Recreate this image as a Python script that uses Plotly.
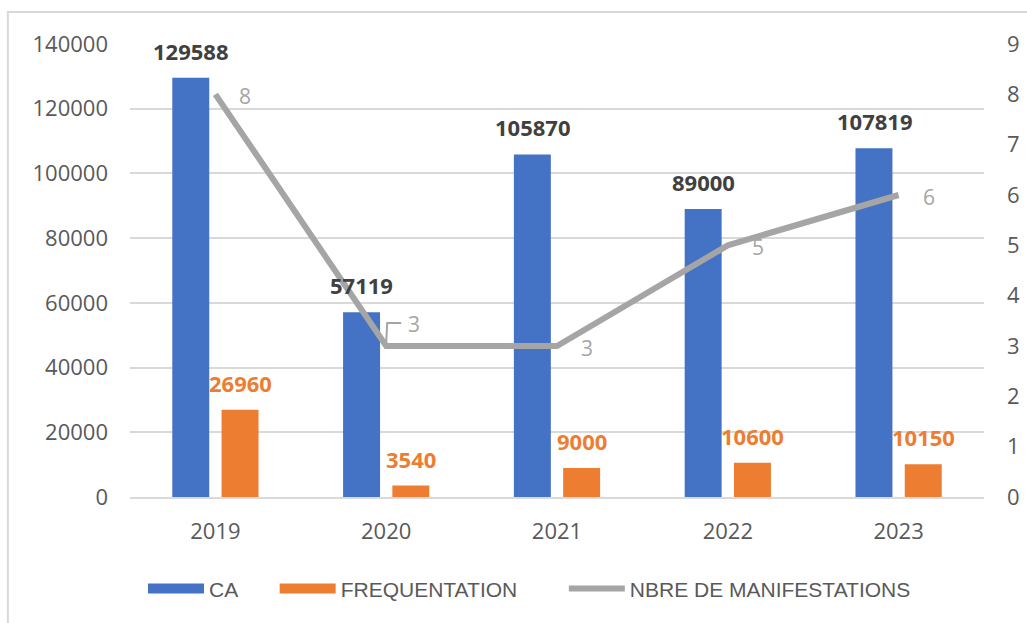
import plotly.graph_objects as go

years = ["2019", "2020", "2021", "2022", "2023"]
ca = [129588, 57119, 105870, 89000, 107819]
frequentation = [26960, 3540, 9000, 10600, 10150]
manifestations = [8, 3, 3, 5, 6]
left_ticks = [0, 20000, 40000, 60000, 80000, 100000, 120000, 140000]
right_ticks = [0, 1, 2, 3, 4, 5, 6, 7, 8, 9]

BLUE = "#4472C4"
ORANGE = "#ED7D31"
GRAY = "#A5A5A5"
TXT = "#595959"
TICKFONT = dict(family="Open Sans", size=22, color=TXT)
LEGFONT = dict(family="Liberation Sans", size=21, color=TXT)

fig = go.Figure()
fig.add_trace(go.Bar(x=years, y=ca, name="CA", marker=dict(color=BLUE, line=dict(width=0)),
                     showlegend=False, legendgroup="ca"))
fig.add_trace(go.Bar(x=years, y=frequentation, name="FREQUENTATION",
                     marker=dict(color=ORANGE, line=dict(width=0)),
                     showlegend=False, legendgroup="fr"))
fig.add_trace(go.Scatter(x=years, y=manifestations, name="NBRE DE MANIFESTATIONS", yaxis="y2",
                         mode="lines", line=dict(color=GRAY, width=6), showlegend=False,
                         legendgroup="nb"))

# legend entries (swatches styled like the original)
fig.add_trace(go.Scatter(x=years[:1], y=[None], name="CA", mode="lines", legend="legend",
                         line=dict(color=BLUE, width=13), legendgroup="ca"))
fig.add_trace(go.Scatter(x=years[:1], y=[None], name="FREQUENTATION", mode="lines", legend="legend2",
                         line=dict(color=ORANGE, width=13), legendgroup="fr"))
fig.add_trace(go.Scatter(x=years[:1], y=[None], name="NBRE DE MANIFESTATIONS", mode="lines",
                         legend="legend3", line=dict(color=GRAY, width=6), legendgroup="nb"))

annotations = []
for i, v in enumerate(ca):
    annotations.append(dict(x=i, y=v, xref="x", yref="y", text=f"<b>{v}</b>", showarrow=False,
                            xshift=-24.6, yshift=27, yanchor="middle",
                            font=dict(family="Open Sans", size=22, color="#404040")))
for i, v in enumerate(frequentation):
    annotations.append(dict(x=i, y=v, xref="x", yref="y", text=f"<b>{v}</b>", showarrow=False,
                            xshift=24.6, yshift=27, yanchor="middle",
                            font=dict(family="Open Sans", size=22, color=ORANGE)))
for i, v in enumerate(manifestations):
    if i == 1:
        xs, ys = 28, 22
    else:
        xs, ys = 30, -2
    annotations.append(dict(x=i, y=v, xref="x", yref="y2", text=str(v), showarrow=False,
                            xshift=xs, yshift=ys, yanchor="middle",
                            font=dict(family="Open Sans", size=21, color=GRAY)))

shapes = [
    dict(type="rect", xref="paper", yref="paper", x0=-0.143, x1=1.2, y0=1.0705, y1=-0.4,
         line=dict(color="#D9D9D9", width=2), fillcolor="rgba(0,0,0,0)", layer="below"),
    dict(type="path", xref="x", yref="y2", xsizemode="pixel", ysizemode="pixel",
         xanchor=years.index("2020"), yanchor=manifestations[1],
         path="M0,3 L1,23 L15,23", line=dict(color=GRAY, width=2)),
]

leg_common = dict(orientation="h", y=-0.203, xanchor="left", yanchor="middle",
                  font=LEGFONT, itemwidth=56, bgcolor="rgba(0,0,0,0)")

fig.update_layout(
    width=1027, height=623,
    margin=dict(l=130, r=43, t=44, b=126, autoexpand=False),
    paper_bgcolor="white", plot_bgcolor="white",
    barmode="group", bargap=0.423, bargroupgap=0.25,
    xaxis=dict(type="category", categoryarray=years, categoryorder="array",
               range=[-0.5, len(years) - 0.5], automargin=False,
               showgrid=False, showline=True, linecolor="#D9D9D9", linewidth=1.5,
               ticks="", tickfont=TICKFONT, ticklabelstandoff=14),
    yaxis=dict(range=[0, 140000], tickvals=left_ticks, showgrid=True, gridcolor="#D9D9D9",
               gridwidth=1.5, zeroline=False, showline=False, ticks="", tickfont=TICKFONT,
               ticklabelstandoff=21, tickformat="d", automargin=False),
    yaxis2=dict(range=[0, 9], tickvals=right_ticks, overlaying="y", side="right", showgrid=False,
                zeroline=False, showline=False, ticks="", tickfont=TICKFONT, ticklabelstandoff=22,
                automargin=False),
    legend=dict(x=0.0152, **leg_common),
    legend2=dict(x=0.1694, **leg_common),
    legend3=dict(x=0.508, **leg_common),
    annotations=annotations,
    shapes=shapes,
)

fig.write_html("out.html", config={"displayModeBar": False},
               post_script="document.body.style.margin='0px';")
